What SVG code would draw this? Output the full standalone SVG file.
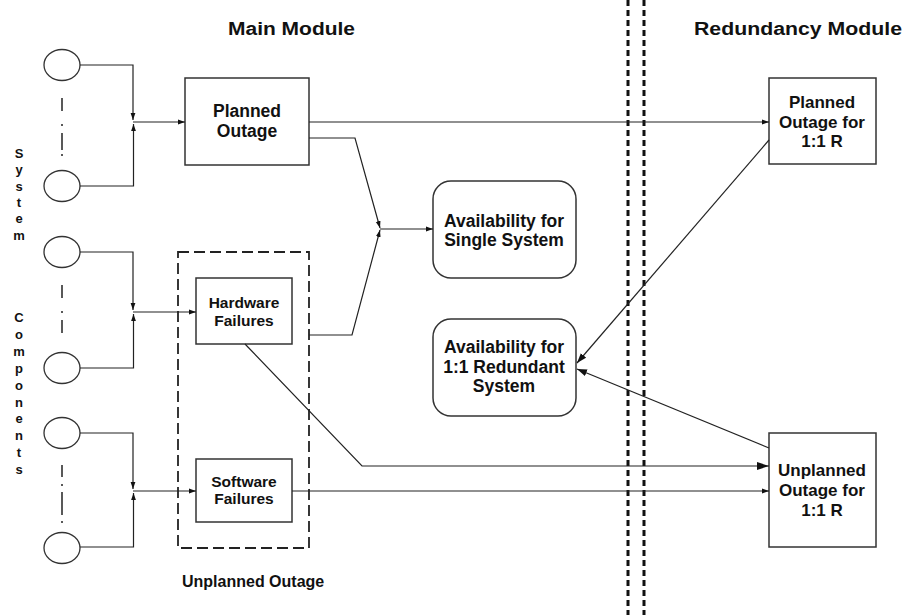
<svg xmlns="http://www.w3.org/2000/svg" width="906" height="615" viewBox="0 0 906 615">
  <defs>
    <marker id="tip-s" markerUnits="userSpaceOnUse" markerWidth="7" markerHeight="6" refX="7" refY="3" orient="auto">
      <path d="M0,0.6 L7,3 L0,5.4 Z" fill="#111"/>
    </marker>
    <marker id="tip-m" markerUnits="userSpaceOnUse" markerWidth="10" markerHeight="8" refX="10" refY="4" orient="auto">
      <path d="M0,0.5 L10,4 L0,7.5 Z" fill="#111"/>
    </marker>
    <marker id="tip-l" markerUnits="userSpaceOnUse" markerWidth="12" markerHeight="9" refX="12" refY="4.5" orient="auto">
      <path d="M0,0.5 L12,4.5 L0,8.5 Z" fill="#111"/>
    </marker>
  </defs>
  <style>
    .lbl { font-family: "Liberation Sans", Arial, sans-serif; font-weight: bold; fill: #111; }
    .mid { text-anchor: middle; }
    .box { fill: #fff; stroke: #333; stroke-width: 1.5; }
    .src { fill: #fff; stroke: #333; stroke-width: 1.3; }
    .wire { fill: none; stroke: #222; stroke-width: 1.2; }
    .dotdash { stroke: #222; stroke-width: 1.5; }
    .divider { stroke: #111; stroke-width: 3; stroke-dasharray: 6 4; }
    .group { fill: none; stroke: #222; stroke-width: 1.8; stroke-dasharray: 11 5; }
  </style>

  <rect width="906" height="615" fill="#fff"/>

  <!-- module titles -->
  <text class="lbl" x="228" y="35" font-size="18" textLength="127" lengthAdjust="spacingAndGlyphs">Main Module</text>
  <text class="lbl" x="694" y="35" font-size="18" textLength="208" lengthAdjust="spacingAndGlyphs">Redundancy Module</text>

  <!-- module boundary -->
  <line class="divider" x1="628" y1="0" x2="628" y2="615"/>
  <line class="divider" x1="644" y1="0" x2="644" y2="615"/>

  <!-- side caption, one letter per line -->
  <g id="side-caption" class="lbl mid" font-size="13">
    <text x="19" y="158">S</text>
    <text x="19" y="174.3">y</text>
    <text x="19" y="190.6">s</text>
    <text x="19" y="206.9">t</text>
    <text x="19" y="223.2">e</text>
    <text x="19" y="239.5">m</text>
    <text x="19" y="322">C</text>
    <text x="19" y="338.9">o</text>
    <text x="19" y="355.8">m</text>
    <text x="19" y="372.7">p</text>
    <text x="19" y="389.6">o</text>
    <text x="19" y="406.5">n</text>
    <text x="19" y="423.4">e</text>
    <text x="19" y="440.3">n</text>
    <text x="19" y="457.2">t</text>
    <text x="19" y="474.1">s</text>
  </g>

  <!-- component sources -->
  <g id="src-1"><ellipse class="src" cx="62" cy="65" rx="18" ry="15.5"/></g>
  <g id="src-2"><ellipse class="src" cx="62" cy="186" rx="18" ry="15.5"/></g>
  <g id="src-3"><ellipse class="src" cx="62" cy="252" rx="18" ry="15.5"/></g>
  <g id="src-4"><ellipse class="src" cx="62" cy="368" rx="18" ry="15.5"/></g>
  <g id="src-5"><ellipse class="src" cx="62" cy="433" rx="18" ry="15.5"/></g>
  <g id="src-6"><ellipse class="src" cx="62" cy="548" rx="18" ry="15.5"/></g>

  <!-- ellipsis marks between sources -->
  <g id="ellipses" class="dotdash">
    <line x1="62" y1="98" x2="62" y2="111"/>
    <line x1="62" y1="124" x2="62" y2="126"/>
    <line x1="62" y1="133" x2="62" y2="150"/>
    <line x1="62" y1="154" x2="62" y2="156"/>
    <line x1="62" y1="285" x2="62" y2="298"/>
    <line x1="62" y1="311" x2="62" y2="313"/>
    <line x1="62" y1="320" x2="62" y2="333"/>
    <line x1="62" y1="465" x2="62" y2="477"/>
    <line x1="62" y1="484" x2="62" y2="486"/>
    <line x1="62" y1="492" x2="62" y2="515"/>
    <line x1="62" y1="521" x2="62" y2="523"/>
  </g>

  <!-- unplanned outage grouping -->
  <g id="unplanned-group">
    <rect class="group" x="178" y="252" width="131" height="296"/>
    <text class="lbl" x="182" y="587" font-size="16">Unplanned Outage</text>
  </g>

  <g id="planned-outage">
    <rect class="box" x="185" y="78" width="124" height="87"/>
    <text class="lbl mid" x="247" y="117" font-size="17.5">Planned</text>
    <text class="lbl mid" x="247" y="137" font-size="17.5">Outage</text>
  </g>

  <g id="hardware-failures">
    <rect class="box" x="196" y="278" width="96" height="66"/>
    <text class="lbl mid" x="244" y="308" font-size="15.5">Hardware</text>
    <text class="lbl mid" x="244" y="326" font-size="15.5">Failures</text>
  </g>

  <g id="software-failures">
    <rect class="box" x="196" y="459" width="96" height="63"/>
    <text class="lbl mid" x="244" y="487" font-size="15.5">Software</text>
    <text class="lbl mid" x="244" y="504" font-size="15.5">Failures</text>
  </g>

  <g id="availability-single">
    <rect class="box" x="433" y="181" width="143" height="97" rx="18" ry="18"/>
    <text class="lbl mid" x="504" y="227" font-size="17.5">Availability for</text>
    <text class="lbl mid" x="504" y="246" font-size="17.5">Single System</text>
  </g>

  <g id="availability-redundant">
    <rect class="box" x="433" y="319" width="143" height="97" rx="18" ry="18"/>
    <text class="lbl mid" x="504" y="353" font-size="17.5">Availability for</text>
    <text class="lbl mid" x="504" y="373" font-size="17.5">1:1 Redundant</text>
    <text class="lbl mid" x="504" y="392" font-size="17.5">System</text>
  </g>

  <g id="planned-outage-r">
    <rect class="box" x="769" y="78" width="107" height="86"/>
    <text class="lbl mid" x="822" y="108" font-size="17">Planned</text>
    <text class="lbl mid" x="822" y="128" font-size="17">Outage for</text>
    <text class="lbl mid" x="822" y="147" font-size="17">1:1 R</text>
  </g>

  <g id="unplanned-outage-r">
    <rect class="box" x="769" y="433" width="107" height="114"/>
    <text class="lbl mid" x="822" y="476" font-size="17">Unplanned</text>
    <text class="lbl mid" x="822" y="496" font-size="17">Outage for</text>
    <text class="lbl mid" x="822" y="516" font-size="17">1:1 R</text>
  </g>

  <!-- connectors -->
  <g id="connectors" class="wire">
    <path d="M80,65 H133 V120" marker-end="url(#tip-s)"/>
    <path d="M80,186 H133.5 V124" marker-end="url(#tip-s)"/>
    <path d="M133,122 H185" marker-end="url(#tip-s)"/>
    <path d="M80,252 H133 V310" marker-end="url(#tip-s)"/>
    <path d="M80,368 H133.5 V314" marker-end="url(#tip-s)"/>
    <path d="M133,312 H196" marker-end="url(#tip-s)"/>
    <path d="M80,433 H133 V489" marker-end="url(#tip-s)"/>
    <path d="M80,547 H133.5 V493" marker-end="url(#tip-s)"/>
    <path d="M133,491 H196" marker-end="url(#tip-s)"/>
    <path d="M309,122 H769" marker-end="url(#tip-s)"/>
    <path d="M309,138 H355 L380,228" marker-end="url(#tip-s)"/>
    <path d="M309,335 H352 L380,230" marker-end="url(#tip-s)"/>
    <path d="M380,229 H433" marker-end="url(#tip-s)"/>
    <path d="M245,344 L362,466 H769" marker-end="url(#tip-l)"/>
    <path d="M292,491 H769" marker-end="url(#tip-s)"/>
    <path d="M769,140 L577,363" marker-end="url(#tip-m)"/>
    <path d="M769,448 L577,369" marker-end="url(#tip-m)"/>
  </g>
</svg>
